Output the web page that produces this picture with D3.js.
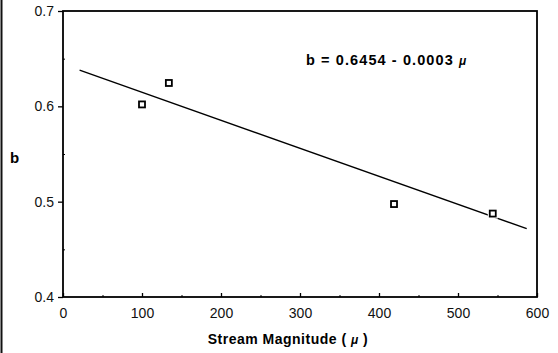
<!DOCTYPE html>
<html lang="en">
<head>
<meta charset="UTF-8">
<title>b vs Stream Magnitude</title>
<script src="https://cdn.jsdelivr.net/npm/d3@7"></script>
<style>
    body { margin: 0; background: #fff; }
    svg { font-family: 'Liberation Sans', Arial, sans-serif; }
    .tick text { font-size: 14px; fill: #111; }
    .bold { font-weight: bold; fill: #000; }
</style>
</head>
<body>
<svg id="chart" width="558" height="353"></svg>
<script>
    // observed points
    const magnitude = [100, 134, 419, 544];
    const bValues = [0.602, 0.6245, 0.4975, 0.4875];

    // regression line end points (b = 0.6454 - 0.0003 mu)
    const fitX = [21, 587];
    const fitY = [0.638, 0.4717];

    const xTicks = [0, 100, 200, 300, 400, 500, 600];
    const yTicks = [0.4, 0.5, 0.6, 0.7];
    const yMinor = [0.45, 0.55, 0.65];
    const xMinor = [50, 150, 250, 350, 450, 550];

    const margin = { left: 63, right: 21, top: 11, bottom: 56 };
    const width = 558, height = 353;

    const svg = d3.select("#chart");

    const x = d3.scaleLinear().domain([0, 600]).range([margin.left, width - margin.right]);
    const y = d3.scaleLinear().domain([0.4, 0.7]).range([height - margin.bottom, margin.top]);

    // scan edge on the left
    svg.append("line")
        .attr("x1", 1.5).attr("x2", 1.5)
        .attr("y1", 0).attr("y2", height)
        .attr("stroke", "#111").attr("stroke-width", 2);

    // frame
    svg.append("rect")
        .attr("x", x(0)).attr("y", y(0.7))
        .attr("width", x(600) - x(0)).attr("height", y(0.4) - y(0.7))
        .attr("fill", "none").attr("stroke", "#000").attr("stroke-width", 1.8);

    // x axis, ticks pointing inward
    const xAxis = svg.append("g")
        .attr("transform", `translate(0,${y(0.4)})`)
        .call(d3.axisBottom(x).tickValues(xTicks).tickSize(-4).tickPadding(11).tickFormat(d3.format("d")));
    xAxis.select(".domain").remove();
    xAxis.selectAll(".tick line").attr("stroke-width", 1.3);

    svg.append("g")
        .attr("transform", `translate(0,${y(0.4)})`)
        .call(d3.axisBottom(x).tickValues(xMinor).tickSize(-2).tickFormat(""))
        .select(".domain").remove();

    // y axis, ticks pointing outward
    const yAxis = svg.append("g")
        .attr("transform", `translate(${x(0)},0)`)
        .call(d3.axisLeft(y).tickValues(yTicks).tickSize(5).tickPadding(4).tickFormat(d3.format(".1f")));
    yAxis.select(".domain").remove();
    yAxis.selectAll(".tick line").attr("stroke-width", 1.3);

    svg.append("g")
        .attr("transform", `translate(${x(0)},0)`)
        .call(d3.axisLeft(y).tickValues(yMinor).tickSize(-2).tickFormat(""))
        .select(".domain").remove();

    // regression line
    const line = d3.line().x(d => x(d[0])).y(d => y(d[1]));
    svg.append("path")
        .datum(d3.zip(fitX, fitY))
        .attr("d", line)
        .attr("fill", "none")
        .attr("stroke", "#000")
        .attr("stroke-width", 1.4);

    // point markers
    const pts = svg.append("g").selectAll("g")
        .data(d3.zip(magnitude, bValues))
        .join("g")
        .attr("transform", d => `translate(${x(d[0])},${y(d[1])})`);
    pts.append("rect")
        .attr("x", -5).attr("y", -5).attr("width", 10).attr("height", 10)
        .attr("fill", "#fff");
    pts.append("rect")
        .attr("x", -3).attr("y", -3).attr("width", 6).attr("height", 6)
        .attr("fill", "#fff").attr("stroke", "#000").attr("stroke-width", 1.8);

    // equation
    const eq = svg.append("text")
        .attr("class", "bold")
        .attr("x", 306).attr("y", 65)
        .attr("font-size", 14.5)
        .attr("letter-spacing", 1.1);
    eq.append("tspan").text("b = 0.6454 - 0.0003  ");
    eq.append("tspan").attr("font-style", "italic").attr("font-size", 12).text("μ");

    // axis titles
    svg.append("text")
        .attr("class", "bold")
        .attr("x", 14.5).attr("y", 163)
        .attr("text-anchor", "middle")
        .attr("font-size", 15)
        .text("b");

    const xt = svg.append("text")
        .attr("class", "bold")
        .attr("x", 288).attr("y", 344)
        .attr("text-anchor", "middle")
        .attr("font-size", 14)
        .attr("letter-spacing", 0.5);
    xt.append("tspan").text("Stream Magnitude ( ");
    xt.append("tspan").attr("font-style", "italic").attr("font-size", 12).text("μ");
    xt.append("tspan").text("  )");
</script>
</body>
</html>
